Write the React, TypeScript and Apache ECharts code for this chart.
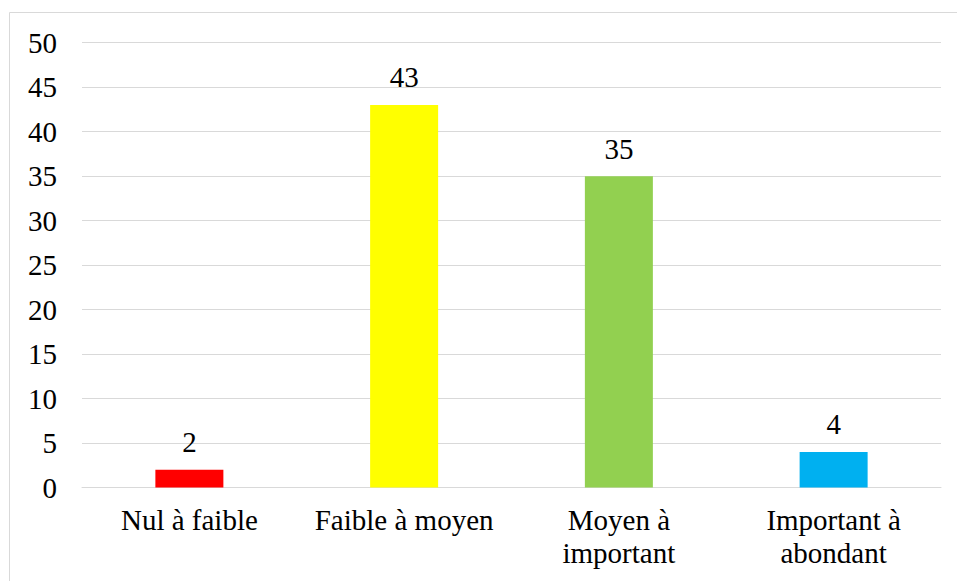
import React, { useEffect, useRef } from "react";
import * as echarts from "echarts";

const categories = ["Nul à faible", "Faible à moyen", "Moyen à\nimportant", "Important à\nabondant"];
const values = [2, 43, 35, 4];
const barColors = ["#FF0000", "#FFFF00", "#92D050", "#00B0F0"];
const yTicks = { min: 0, max: 50, interval: 5 };

const FONT = "'Liberation Serif', 'Times New Roman', serif";

export default function App() {
  const ref = useRef<HTMLDivElement>(null);
  useEffect(() => {
    if (!ref.current) return;
    const chart = echarts.init(ref.current, undefined, { renderer: "svg" });
    chart.setOption({
      animation: false,
      backgroundColor: "#ffffff",
      textStyle: { fontFamily: FONT },
      graphic: [
        {
          type: "rect",
          shape: { x: 9.5, y: 12.5, width: 960, height: 600 },
          style: { fill: "none", stroke: "#D9D9D9", lineWidth: 1 },
          silent: true,
          z: 0,
        },
      ],
      grid: { left: 82, right: 16, top: 42.7, bottom: 93.5, containLabel: false },
      xAxis: {
        type: "category",
        data: categories,
        axisLine: { show: true, lineStyle: { color: "#D9D9D9", width: 1 } },
        axisTick: { show: false },
        axisLabel: {
          color: "#000000",
          fontFamily: FONT,
          fontSize: 29,
          lineHeight: 33,
          margin: 16,
          interval: 0,
        },
      },
      yAxis: {
        type: "value",
        min: yTicks.min,
        max: yTicks.max,
        interval: yTicks.interval,
        axisLine: { show: false },
        axisTick: { show: false },
        splitLine: { lineStyle: { color: "#D9D9D9", width: 1 } },
        axisLabel: {
          color: "#000000",
          fontFamily: FONT,
          fontSize: 29,
          margin: 25,
        },
      },
      series: [
        {
          type: "bar",
          barWidth: 68,
          data: values.map((v, i) => ({ value: v, itemStyle: { color: barColors[i] } })),
          label: {
            show: true,
            position: "top",
            distance: 13,
            color: "#000000",
            fontFamily: FONT,
            fontSize: 29,
          },
        },
      ],
    });
    return () => chart.dispose();
  }, []);
  return (
    <div
      ref={ref}
      style={{ position: "fixed", left: 0, top: 0, width: 957, height: 581 }}
    />
  );
}
